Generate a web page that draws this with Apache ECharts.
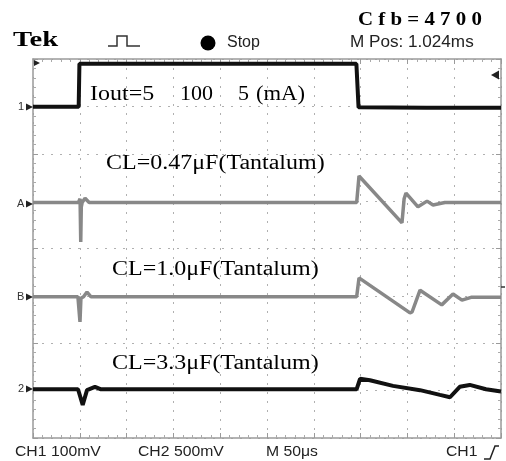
<!DOCTYPE html>
<html>
<head>
<meta charset="utf-8">
<script src="https://cdn.jsdelivr.net/npm/echarts@6/dist/echarts.min.js"></script>
<style>html,body{margin:0;padding:0;background:#fff}#c{width:506px;height:461px}</style>
</head>
<body>
<div id="c"></div>
<script>
// Time axis in microseconds (10 div x 50 us), vertical in graticule divisions (0..8)
const xTicks = [0, 50, 100, 150, 200, 250, 300, 350, 400, 450, 500];
const yTicks = [0, 1, 2, 3, 4, 5, 6, 7, 8];

// CH1: load current step (black)
const ch1T = [0, 48.8, 49.6, 345.5, 347.8, 420, 500];
const ch1V = [6.99, 6.99, 7.90, 7.90, 6.98, 6.97, 6.97];

// Trace A: CL=0.47uF (gray)
const aT = [0, 48.5, 50.3, 51.0, 51.6, 52.5, 55.6, 60, 345.8, 348.3, 394.2, 396.5, 398.5, 411.3, 421, 427.4, 440, 500];
const aV = [4.97, 4.97, 5.05, 4.14, 4.88, 4.97, 5.06, 4.97, 4.97, 5.53, 4.54, 5.05, 5.17, 4.88, 5.0, 4.92, 4.97, 4.97];

// Trace B: CL=1.0uF (gray)
const bT = [0, 48.0, 49.2, 50.2, 51.2, 54, 57.7, 62, 345.8, 348.3, 402.8, 405, 413.5, 436.7, 448.7, 458.3, 468, 500];
const bV = [2.98, 2.98, 2.95, 2.45, 2.95, 2.98, 3.08, 2.98, 2.98, 3.38, 2.64, 2.66, 3.12, 2.81, 3.04, 2.91, 2.97, 2.97];

// CH2: CL=3.3uF (black)
const c2T = [0, 48.1, 53.1, 57.7, 66.2, 72, 345.8, 349.4, 360, 384.6, 413.5, 434.8, 445.5, 455.9, 466.6, 484, 500];
const c2V = [1.03, 1.03, 0.70, 1.01, 1.08, 1.03, 1.03, 1.25, 1.22, 1.10, 1.01, 0.91, 0.86, 1.08, 1.12, 1.03, 0.98];

const zip = (t, v) => t.map((x, i) => [x, v[i]]);

const chart = echarts.init(document.getElementById('c'), null, {renderer: 'canvas'});

const axisCommon = {
  type: 'value',
  axisLine: {show: true, onZero: false, lineStyle: {color: '#9a9a9a', width: 1.5}},
  axisTick: {show: true, inside: true, length: 5, lineStyle: {color: '#9a9a9a'}},
  minorTick: {show: true, splitNumber: 5, length: 3, lineStyle: {color: '#aaaaaa'}},
  axisLabel: {show: false}
};
const gridLine = {show: true, lineStyle: {color: '#b0b0b0', width: 1, type: [2, 7]}};

const serif = '"Liberation Serif", "DejaVu Serif", serif';
const sans = '"Liberation Sans", Arial, sans-serif';

function txt(x, y, text, font, size, opts) {
  opts = opts || {};
  return {
    type: 'text', x: x, y: y, scaleX: opts.sx || 1, z: 100,
    style: {text: text, fontFamily: font, fontSize: size, fontWeight: opts.bold ? 'bold' : 'normal',
            fill: opts.fill || '#000', align: 'left', verticalAlign: 'middle'}
  };
}

const graphics = [
  txt(13, 40, 'Tek', serif, 22, {bold: true, sx: 1.3}),
  txt(358, 20, 'C f b = 4 7 0 0', serif, 18, {bold: true, sx: 1.16}),
  {type: 'polyline', z: 100, shape: {points: [[108, 46], [117, 46], [117, 36], [127, 36], [127, 46], [140, 46]]},
   style: {stroke: '#333', lineWidth: 1.5, fill: null}},
  {type: 'circle', z: 100, shape: {cx: 208, cy: 43, r: 7.5}, style: {fill: '#000'}},
  txt(227, 43, 'Stop', sans, 16, {fill: '#222'}),
  txt(350, 43, 'M Pos: 1.024ms', sans, 16, {fill: '#222', sx: 1.07}),
  txt(90, 95, 'Iout=5', serif, 20, {sx: 1.2}),
  txt(180, 95, '100', serif, 20, {sx: 1.1}),
  txt(238, 95, '5', serif, 20, {sx: 1.1}),
  txt(256, 95, '(mA)', serif, 20, {sx: 1.13}),
  txt(106, 164, 'CL=0.47\u03bcF(Tantalum)', serif, 20, {sx: 1.2}),
  txt(112, 270, 'CL=1.0\u03bcF(Tantalum)', serif, 20, {sx: 1.2}),
  txt(112, 364, 'CL=3.3\u03bcF(Tantalum)', serif, 20, {sx: 1.2}),
  txt(15, 452, 'CH1 100mV', sans, 15, {fill: '#222', sx: 1.05}),
  txt(138, 452, 'CH2 500mV', sans, 15, {fill: '#222', sx: 1.05}),
  txt(266, 452, 'M 50\u03bcs', sans, 15, {fill: '#222', sx: 1.05}),
  txt(446, 452, 'CH1', sans, 15, {fill: '#222', sx: 1.05}),
  {type: 'polyline', z: 100, shape: {points: [[484, 459], [490, 459], [495, 446], [499, 446]]},
   style: {stroke: '#222', lineWidth: 1.5, fill: null}},
  // channel ground markers
  txt(18, 107, '1', sans, 11, {fill: '#333'}),
  {type: 'polygon', z: 100, shape: {points: [[26, 103.5], [33, 107], [26, 110.5]]}, style: {fill: '#222'}},
  txt(17, 204, 'A', sans, 11, {fill: '#333'}),
  {type: 'polygon', z: 100, shape: {points: [[26, 200.5], [33, 204], [26, 207.5]]}, style: {fill: '#222'}},
  txt(17, 297, 'B', sans, 11, {fill: '#333'}),
  {type: 'polygon', z: 100, shape: {points: [[26, 293.5], [33, 297], [26, 300.5]]}, style: {fill: '#222'}},
  txt(18, 389, '2', sans, 11, {fill: '#333'}),
  {type: 'polygon', z: 100, shape: {points: [[26, 385.5], [33, 389], [26, 392.5]]}, style: {fill: '#222'}},
  // trigger position / level markers
  {type: 'polygon', z: 100, shape: {points: [[34, 60], [40, 63], [34, 66]]}, style: {fill: '#222'}},
  {type: 'polygon', z: 100, shape: {points: [[491, 75], [499, 70.5], [499, 79.5]]}, style: {fill: '#222'}},
  {type: 'line', z: 100, shape: {x1: 501, y1: 287, x2: 505, y2: 287}, style: {stroke: '#333', lineWidth: 1.5}}
];

chart.setOption({
  animation: false,
  backgroundColor: '#ffffff',
  grid: {left: 33, right: 5, top: 59, bottom: 23, containLabel: false},
  xAxis: [
    Object.assign({}, axisCommon, {min: 0, max: 500, interval: 50, position: 'bottom', splitLine: gridLine}),
    Object.assign({}, axisCommon, {min: 0, max: 500, interval: 50, position: 'top', splitLine: {show: false}})
  ],
  yAxis: [
    Object.assign({}, axisCommon, {min: 0, max: 8, interval: 1, position: 'left', splitLine: gridLine}),
    Object.assign({}, axisCommon, {min: 0, max: 8, interval: 1, position: 'right', splitLine: {show: false}})
  ],
  series: [
    {type: 'line', name: 'A', data: zip(aT, aV), showSymbol: false, symbol: 'none', z: 3,
     lineStyle: {color: '#888888', width: 3.5}},
    {type: 'line', name: 'B', data: zip(bT, bV), showSymbol: false, symbol: 'none', z: 3,
     lineStyle: {color: '#888888', width: 3.5}},
    {type: 'line', name: 'CH1', data: zip(ch1T, ch1V), showSymbol: false, symbol: 'none', z: 4,
     lineStyle: {color: '#111', width: 4}},
    {type: 'line', name: 'CH2', data: zip(c2T, c2V), showSymbol: false, symbol: 'none', z: 4,
     lineStyle: {color: '#111', width: 4}}
  ],
  graphic: graphics
});
</script>
</body>
</html>
